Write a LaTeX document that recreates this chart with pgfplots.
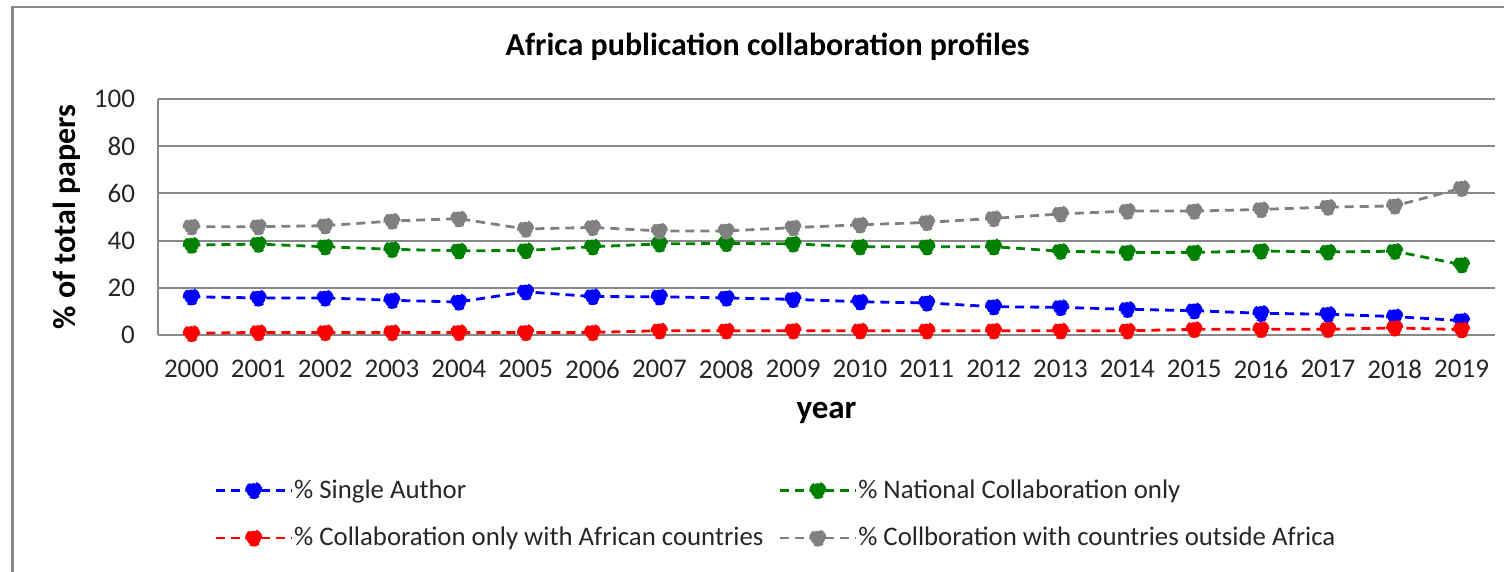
\documentclass[border=0pt]{standalone}
\usepackage{pgfplots}
\usepackage{pgfplotstable}
\pgfplotsset{compat=1.18}
\usepackage{fontspec}
\setmainfont{Carlito}

\definecolor{gridgray}{RGB}{137,137,137}
\definecolor{sgray}{RGB}{128,128,128}
\definecolor{sgreen}{RGB}{0,128,0}

% year, single, national, african, outside
\pgfplotstableread{
year single national african outside
2000 16.2 38.1 0.7 45.9
2001 15.7 38.5 1.1 45.9
2002 15.7 37.4 1.1 46.3
2003 14.7 36.3 1.1 48.3
2004 14.0 35.7 1.1 49.3
2005 18.3 35.8 1.1 44.9
2006 16.3 37.4 1.1 45.6
2007 16.2 38.6 1.8 44.1
2008 15.7 38.8 1.8 44.1
2009 15.1 38.6 1.8 45.5
2010 14.1 37.4 1.8 46.7
2011 13.6 37.4 1.8 47.7
2012 12.0 37.4 1.8 49.4
2013 11.7 35.5 1.8 51.3
2014 10.9 35.0 1.8 52.5
2015 10.3 35.0 2.4 52.5
2016 9.2 35.6 2.4 53.2
2017 8.8 35.2 2.4 54.2
2018 7.8 35.5 3.0 54.7
2019 6.1 29.8 2.3 62.2
}\datatable

\begin{document}
\begin{tikzpicture}
\useasboundingbox (-79pt,-118.5pt) rectangle (673pt,167.5pt);
\draw[gridgray, line width=1.2pt] (-72.75pt,-140pt) -- (-72.75pt,164pt) -- (700pt,164pt);
\begin{axis}[
  scale only axis,
  width=668.5pt, height=118pt,
  xmin=1999.5, xmax=2019.5,
  ymin=0, ymax=100,
  xtick=data,
  ytick={0,20,...,100},
  /pgf/number format/assume math mode=true,
  /pgf/number format/set thousands separator={},
  axis x line*=bottom,
  axis y line*=left,
  axis line style={gridgray, line width=1pt, -},
  major tick length=0pt,
  ymajorgrids=true,
  grid style={gridgray, line width=1pt},
  tick label style={font=\fontsize{13.5}{15}\selectfont, text=black!85},
  xticklabel style={yshift=-9pt},
  yticklabel style={xshift=-8pt},
  every axis title shift=0pt,
  title={Africa publication collaboration profiles},
  title style={font=\bfseries\fontsize{16}{18}\selectfont, at={(axis description cs:0.456,1.22)}, anchor=center},
  ylabel={\% of total papers},
  ylabel style={font=\bfseries\fontsize{16}{18}\selectfont, at={(axis description cs:-0.068,0.5)}, anchor=center},
  xlabel={year},
  xlabel style={font=\bfseries\fontsize{16.5}{18}\selectfont, at={(axis description cs:0.5,-0.33)}, anchor=center},
  every axis plot/.append style={line width=1.4pt, dash pattern=on 4.5pt off 3pt},
  every mark/.append style={solid},
  mark size=3.6pt,
  legend columns=2,
  legend cell align=left,
  legend image code/.code={\draw[mark repeat=2,mark phase=2,#1] plot coordinates {(0pt,0pt) (19pt,0pt) (38pt,0pt)};},
  legend style={draw=none, fill=none,
    at={(axis description cs:0.0374,-0.577)}, anchor=north west,
    font=\fontsize{13.4}{15}\selectfont, text=black!85,
    row sep=9pt,
    nodes={inner xsep=0.5pt},
    /tikz/every even column/.append style={column sep=7pt}},
]
\addplot[blue, mark=*, mark options={fill=blue, draw=blue}] table[x=year, y=single] {\datatable};
\addlegendentry{\% Single Author}
\addplot[sgreen, mark=*, mark options={fill=sgreen, draw=sgreen}] table[x=year, y=national] {\datatable};
\addlegendentry{\% National Collaboration only}
\addplot[red, mark=*, mark options={fill=red, draw=red}] table[x=year, y=african] {\datatable};
\addlegendentry{\% Collaboration only with African countries}
\addplot[sgray, mark=*, mark options={fill=sgray, draw=sgray}] table[x=year, y=outside] {\datatable};
\addlegendentry{\% Collboration with countries outside Africa}
\end{axis}
\end{tikzpicture}
\end{document}
